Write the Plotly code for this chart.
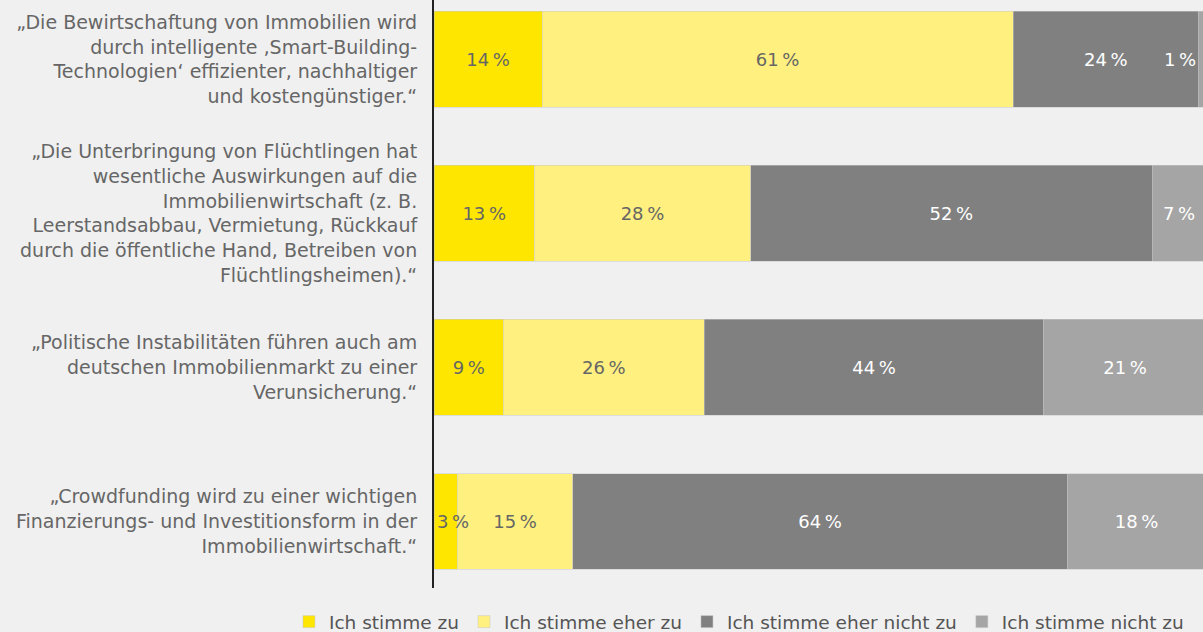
import plotly.graph_objects as go

categories = [
    "„Die Bewirtschaftung von Immobilien wird<br>durch intelligente ‚Smart-Building-<br>Technologien‘ effizienter, nachhaltiger<br>und kostengünstiger.“",
    "„Die Unterbringung von Flüchtlingen hat<br>wesentliche Auswirkungen auf die<br>Immobilienwirtschaft (z. B.<br>Leerstandsabbau, Vermietung, Rückkauf<br>durch die öffentliche Hand, Betreiben von<br>Flüchtlingsheimen).“",
    "„Politische Instabilitäten führen auch am<br>deutschen Immobilienmarkt zu einer<br>Verunsicherung.“",
    "„Crowdfunding wird zu einer wichtigen<br>Finanzierungs- und Investitionsform in der<br>Immobilienwirtschaft.“",
]
series_names = ["Ich stimme zu", "Ich stimme eher zu", "Ich stimme eher nicht zu", "Ich stimme nicht zu"]
stimme_zu = [14, 13, 9, 3]
eher_zu = [61, 28, 26, 15]
eher_nicht_zu = [24, 52, 44, 64]
nicht_zu = [1, 7, 21, 18]

series_values = [stimme_zu, eher_zu, eher_nicht_zu, nicht_zu]
colors = ["#FFE600", "#FFF07F", "#808080", "#A5A5A5"]
text_colors = ["#666666", "#666666", "#FFFFFF", "#FFFFFF"]
SMALL = 5  # segments too narrow for a centred label

FONT = "DejaVu Sans"
LBL = 18
fig = go.Figure()
for name, vals, col, tcol in zip(series_names, series_values, colors, text_colors):
    texts = [("" if v < SMALL else f"{v}\u2009%") for v in vals]
    fig.add_trace(go.Bar(
        y=categories, x=vals, name=name, orientation="h",
        marker=dict(color=col, line=dict(color="#C8C8C8", width=0.5)),
        text=texts, textposition="inside", insidetextanchor="middle",
        textangle=0, constraintext="none",
        textfont=dict(color=tcol, size=LBL, family=FONT),
        hoverinfo="skip",
    ))

# labels for narrow segments, placed from the data's cumulative sums
annotations = []
for si, (vals, tcol) in enumerate(zip(series_values, text_colors)):
    for ci, v in enumerate(vals):
        if v >= SMALL:
            continue
        start = sum(series_values[k][ci] for k in range(si))
        annotations.append(dict(
            x=start, y=categories[ci], text=f"{v}\u2009%",
            xanchor="left" if si == 0 else "right",
            xshift=1 if si == 0 else 0, showarrow=False,
            font=dict(color=tcol, size=LBL, family=FONT)))

fig.update_layout(
    width=1203, height=632,
    barmode="stack", bargap=0.377,
    paper_bgcolor="#F0F0F0", plot_bgcolor="#F0F0F0",
    margin=dict(l=434, r=0, t=0, b=44, autoexpand=False),
    font=dict(family=FONT, color="#666666", size=19),
    xaxis=dict(range=[0, 99.6], visible=False, showgrid=False, zeroline=False),
    yaxis=dict(range=[3.432, -0.386], showline=True, linecolor="#222222", linewidth=2,
               ticks="", ticklabelstandoff=11, showgrid=False, zeroline=False,
               tickfont=dict(size=19, color="#666666", family=FONT)),
    legend=dict(orientation="h", x=-0.1886, xanchor="left", y=-0.058, yanchor="middle",
                font=dict(size=18.5, color="#555555", family=FONT),
                bgcolor="rgba(0,0,0,0)", traceorder="normal", itemclick=False),
    annotations=annotations,
    showlegend=True,
)
fig.write_html("out.html", config={"displayModeBar": False},
               post_script="document.body.style.margin='0';")
